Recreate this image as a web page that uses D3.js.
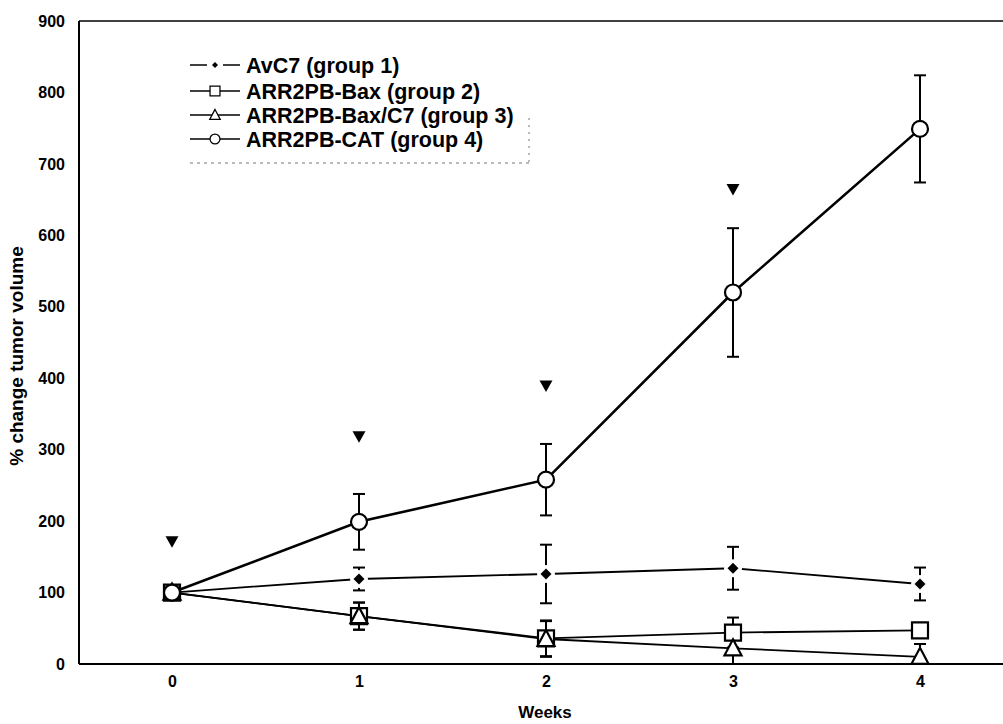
<!DOCTYPE html>
<html><head><meta charset="utf-8">
<script src="https://cdn.jsdelivr.net/npm/d3@7"></script>
<style>body{margin:0;background:#fff} svg{display:block}</style>
</head><body><svg id="c" width="1003" height="724"></svg>
<script>
// ---- data ----
const weeks = [0, 1, 2, 3, 4];
const yTicks = [0, 100, 200, 300, 400, 500, 600, 700, 800, 900];
const seriesNames = ["AvC7 (group 1)", "ARR2PB-Bax (group 2)", "ARR2PB-Bax/C7 (group 3)", "ARR2PB-CAT (group 4)"];
const avc7 = [100, 119, 126, 134, 112];
const avc7Err = [0, 16, 41, 30, 23];
const bax = [100, 67, 36, 44, 47];
const baxErr = [0, 19, 25, 21, 4];
const baxC7 = [100, 67, 35, 22, 10];
const baxC7Err = [0, 19, 25, 22, 18];
const cat = [100, 199, 258, 520, 749];
const catErr = [0, 39, 50, 90, 75];
const arrowWeeks = [0, 1, 2, 3];
const arrowValues = [171, 318, 389, 664];
const xTitle = "Weeks";
const yTitle = "% change tumor volume";

// ---- setup ----
const svg = d3.select("#c");
const FONT = "'Liberation Sans', Arial, Helvetica, sans-serif";
const x = d3.scaleLinear().domain([0, 4]).range([172, 920]);
const y = d3.scaleLinear().domain([0, 900]).range([664, 21]);
const left = 79, right = 1003;

svg.append("rect").attr("width", 1003).attr("height", 724).attr("fill", "#fff");

// frame lines
svg.append("line").attr("x1", left).attr("x2", right).attr("y1", y(900)).attr("y2", y(900))
  .attr("stroke", "#000").attr("stroke-width", 1.5);
svg.append("line").attr("x1", left).attr("x2", left).attr("y1", y(900)).attr("y2", y(0))
  .attr("stroke", "#000").attr("stroke-width", 2);
svg.append("line").attr("x1", left).attr("x2", right).attr("y1", y(0)).attr("y2", y(0))
  .attr("stroke", "#000").attr("stroke-width", 2.2);

// axes
const ya = svg.append("g").attr("transform", `translate(${left},0)`)
  .call(d3.axisLeft(y).tickValues(yTicks).tickSize(0).tickPadding(14));
ya.select(".domain").remove();
ya.selectAll("text").attr("font-family", FONT).attr("font-weight", "bold").attr("font-size", 16).attr("fill", "#000");

const xa = svg.append("g").attr("transform", `translate(0,${y(0)})`)
  .call(d3.axisBottom(x).tickValues(weeks).tickFormat(d3.format("d")).tickSize(0).tickPadding(12));
xa.select(".domain").remove();
xa.selectAll("text").attr("font-family", FONT).attr("font-weight", "bold").attr("font-size", 16).attr("fill", "#000");

svg.append("text").attr("x", 545).attr("y", 718).attr("text-anchor", "middle")
  .attr("font-family", FONT).attr("font-weight", "bold").attr("font-size", 17).text(xTitle);
svg.append("text").attr("transform", "translate(23,356) rotate(-90)").attr("text-anchor", "middle")
  .attr("font-family", FONT).attr("font-weight", "bold").attr("font-size", 19).text(yTitle);

// shapes
const shapes = {
  diamond: "M0,-5.5L5.5,0L0,5.5L-5.5,0Z",
  square: "M-8,-8H8V8H-8Z",
  triangle: "M0,-9L8.5,7L-8.5,7Z",
  circle: d3.arc()({innerRadius: 0, outerRadius: 8, startAngle: 0, endAngle: 2 * Math.PI})
};

const series = [
  {name: seriesNames[0], vals: avc7, err: avc7Err, shape: "diamond", lw: 1.8},
  {name: seriesNames[1], vals: bax, err: baxErr, shape: "square", lw: 1.8},
  {name: seriesNames[2], vals: baxC7, err: baxC7Err, shape: "triangle", lw: 1.8},
  {name: seriesNames[3], vals: cat, err: catErr, shape: "circle", lw: 2.6}
];

const line = d3.line().x((d, i) => x(weeks[i])).y(d => y(d));

// lines
series.forEach(s => {
  svg.append("path").attr("d", line(s.vals)).attr("fill", "none")
    .attr("stroke", "#000").attr("stroke-width", s.lw);
});
// error bars
series.forEach(s => {
  const g = svg.append("g").attr("stroke", "#000").attr("stroke-width", 2);
  s.vals.forEach((v, i) => {
    if (!s.err[i]) return;
    const cx = x(weeks[i]), y1 = y(Math.max(0, v - s.err[i])), y2 = y(v + s.err[i]);
    g.append("line").attr("x1", cx).attr("x2", cx).attr("y1", y1).attr("y2", y2);
    g.append("line").attr("x1", cx - 6).attr("x2", cx + 6).attr("y1", y2).attr("y2", y2);
    if (v - s.err[i] > 0) g.append("line").attr("x1", cx - 6).attr("x2", cx + 6).attr("y1", y1).attr("y2", y1);
  });
});
// markers
series.forEach(s => {
  s.vals.forEach((v, i) => {
    const p = svg.append("path").attr("d", shapes[s.shape])
      .attr("transform", `translate(${x(weeks[i])},${y(v)})`);
    if (s.shape === "diamond") {
      svg.insert("circle", () => p.node()).attr("cx", x(weeks[i])).attr("cy", y(v)).attr("r", 9).attr("fill", "#fff");
      p.attr("fill", "#000");
    } else {
      p.attr("fill", "#fff").attr("stroke", "#000").attr("stroke-width", 2.2);
    }
  });
});

// injection arrows
arrowWeeks.forEach((w, i) => {
  svg.append("path").attr("d", "M-6.5,-5.5L6.5,-5.5L0,6Z").attr("fill", "#000")
    .attr("transform", `translate(${x(w)},${y(arrowValues[i])})`);
});

// legend
const lg = svg.append("g");
const rowY = [65, 91, 115, 139];
series.forEach((s, i) => {
  const ly = rowY[i];
  if (s.shape === "diamond") {
    lg.append("line").attr("x1", 190).attr("x2", 207).attr("y1", ly).attr("y2", ly).attr("stroke", "#000").attr("stroke-width", 1.5);
    lg.append("line").attr("x1", 223).attr("x2", 240).attr("y1", ly).attr("y2", ly).attr("stroke", "#000").attr("stroke-width", 1.5);
    lg.append("path").attr("d", "M0,-3L3,0L0,3L-3,0Z").attr("fill", "#000").attr("transform", `translate(215,${ly})`);
  } else {
    lg.append("line").attr("x1", 190).attr("x2", 240).attr("y1", ly).attr("y2", ly).attr("stroke", "#000").attr("stroke-width", 1.5);
    lg.append("path").attr("d", shapes[s.shape]).attr("fill", "#fff").attr("stroke", "#000").attr("stroke-width", 2)
      .attr("transform", `translate(215,${ly}) scale(0.62)`);
  }
  lg.append("text").attr("x", 246).attr("y", ly).attr("dy", "0.36em")
    .attr("font-family", FONT).attr("font-weight", "bold").attr("font-size", 21.5).text(s.name);
});
lg.append("line").attr("x1", 190).attr("x2", 530).attr("y1", 163).attr("y2", 163)
  .attr("stroke", "#777").attr("stroke-width", 1).attr("stroke-dasharray", "3,4");
lg.append("line").attr("x1", 529).attr("x2", 529).attr("y1", 118).attr("y2", 163)
  .attr("stroke", "#777").attr("stroke-width", 1).attr("stroke-dasharray", "2,5");
</script></body></html>
